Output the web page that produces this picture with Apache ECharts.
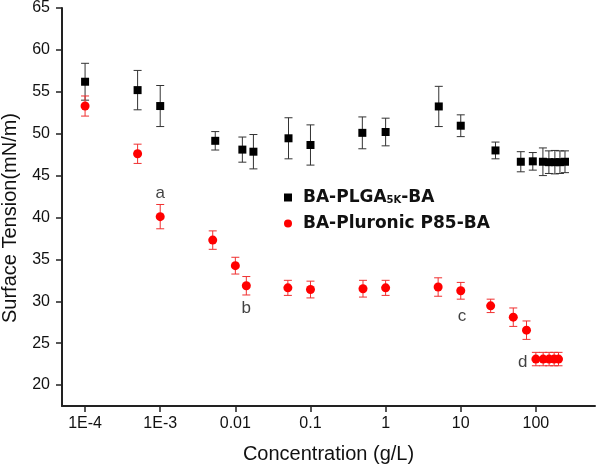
<!DOCTYPE html>
<html>
<head>
<meta charset="utf-8">
<script src="https://cdn.jsdelivr.net/npm/echarts@6/dist/echarts.min.js"></script>
<style>html,body{margin:0;padding:0;background:#fff}#c{width:597px;height:467px}</style>
</head>
<body>
<div id="c"></div>
<script>
// ---- data ----
const plgaX   = [1e-4, 5e-4, 1e-3, 0.0054, 0.0124, 0.0174, 0.051, 0.1, 0.49, 1, 5.1, 10, 29, 63, 91, 124, 149, 179, 209, 244];
const plgaY   = [56.2, 55.2, 53.3, 49.15, 48.1, 47.85, 49.45, 48.65, 50.1, 50.2, 53.25, 50.95, 48.0, 46.65, 46.7, 46.65, 46.6, 46.6, 46.6, 46.65];
const plgaErr = [2.2, 2.35, 2.45, 1.1, 1.5, 2.05, 2.45, 2.4, 1.9, 1.65, 2.4, 1.3, 1.0, 1.2, 1.05, 1.65, 1.35, 1.4, 1.35, 1.3];

const p85X    = [1e-4, 5e-4, 1e-3, 0.005, 0.01, 0.014, 0.05, 0.1, 0.5, 1, 5, 10, 25, 50, 75, 100, 125, 150, 175, 200];
const p85Y    = [53.3, 47.6, 40.1, 37.3, 34.25, 31.85, 31.6, 31.4, 31.5, 31.6, 31.7, 31.25, 29.45, 28.1, 26.55, 23.1, 23.1, 23.1, 23.1, 23.1];
const p85Err  = [1.2, 1.15, 1.45, 1.1, 1.0, 1.1, 0.9, 1.0, 1.0, 0.9, 1.1, 1.0, 0.8, 1.1, 1.1, 0.8, 0.8, 0.8, 0.8, 0.8];

const noteText = ['a', 'b', 'c', 'd'];
const noteX    = [1e-3, 0.014, 10.4, 67];
const noteY    = [42.9, 29.1, 28.2, 22.7];

const xTickValues = [1e-4, 1e-3, 0.01, 0.1, 1, 10, 100];
const xTickLabels = ['1E-4', '1E-3', '0.01', '0.1', '1', '10', '100'];
const yTickValues = [20, 25, 30, 35, 40, 45, 50, 55, 60, 65];

const seriesNames = ['BA-PLGA5K-BA', 'BA-Pluronic P85-BA'];

// ---- build ----
function pts(xs, ys) { return xs.map((x, i) => [x, ys[i]]); }
function errs(xs, ys, es) { return xs.map((x, i) => [x, ys[i] - es[i], ys[i] + es[i]]); }

function errRender(color) {
  return function (params, api) {
    const x = api.value(0);
    const lo = api.coord([x, api.value(1)]);
    const hi = api.coord([x, api.value(2)]);
    const hw = 4;
    const style = { stroke: color, lineWidth: 1, fill: null };
    return {
      type: 'group',
      children: [
        { type: 'line', shape: { x1: lo[0], y1: lo[1], x2: hi[0], y2: hi[1] }, style },
        { type: 'line', shape: { x1: lo[0] - hw, y1: lo[1], x2: lo[0] + hw, y2: lo[1] }, style },
        { type: 'line', shape: { x1: hi[0] - hw, y1: hi[1], x2: hi[0] + hw, y2: hi[1] }, style }
      ]
    };
  };
}

const FONT = '"Liberation Sans", Arial, sans-serif';
const BOLDFONT = '"DejaVu Sans", sans-serif';
const axisColor = '#222';
const chart = echarts.init(document.getElementById('c'), null, { renderer: 'canvas' });
chart.setOption({
  animation: false,
  backgroundColor: '#fff',
  grid: { left: 62, right: 2, top: 8, bottom: 61, containLabel: false, outerBoundsMode: 'none' },
  xAxis: {
    type: 'log',
    logBase: 10,
    min: 4.93e-5,
    max: 612,
    name: 'Concentration (g/L)',
    nameLocation: 'middle',
    nameGap: 38,
    nameTextStyle: { color: '#111', fontSize: 20, fontFamily: FONT },
    axisLine: { lineStyle: { color: axisColor, width: 2 } },
    axisTick: { show: true, length: 6, inside: false, customValues: xTickValues, lineStyle: { color: axisColor, width: 1.5 } },
    axisLabel: {
      customValues: xTickValues,
      color: '#111', fontSize: 16, margin: 10,
      fontFamily: FONT,
      formatter: function (v) {
        const i = xTickValues.findIndex(t => Math.abs(Math.log10(t) - Math.log10(v)) < 1e-6);
        return i >= 0 ? xTickLabels[i] : '';
      }
    },
    splitLine: { show: false },
    minorTick: { show: false }
  },
  yAxis: {
    type: 'value',
    min: 17.5,
    max: 65,
    name: 'Surface Tension(mN/m)',
    nameLocation: 'middle',
    nameGap: 42,
    nameRotate: 90,
    nameTextStyle: { color: '#111', fontSize: 20, fontFamily: FONT, padding: [0, 22, 0, 0] },
    axisLine: { show: true, lineStyle: { color: axisColor, width: 2 } },
    axisTick: { show: true, length: 6, customValues: yTickValues, lineStyle: { color: axisColor, width: 1.5 } },
    axisLabel: {
      customValues: yTickValues,
      color: '#111', fontSize: 16, margin: 12,
      fontFamily: FONT
    },
    splitLine: { show: false }
  },
  legend: {
    orient: 'vertical',
    left: 279,
    top: 184,
    itemWidth: 8,
    itemHeight: 8,
    itemGap: 9,
    data: [
      { name: seriesNames[0], icon: 'rect' },
      { name: seriesNames[1], icon: 'circle' }
    ],
    formatter: function (name) {
      if (name === seriesNames[0]) return '{b|BA-PLGA}{s|5K}{b|-BA}';
      return '{b|' + name + '}';
    },
    textStyle: {
      padding: [0, 0, 0, 6],
      rich: {
        b: { fontSize: 17, fontWeight: 'bold', fontFamily: BOLDFONT, color: '#111', lineHeight: 20 },
        s: { fontSize: 10, fontWeight: 'bold', fontFamily: BOLDFONT, color: '#111', lineHeight: 20, padding: [5, 0, 0, 0] }
      }
    }
  },
  series: [
    {
      type: 'custom', name: 'plgaErr', renderItem: errRender('#333'),
      data: errs(plgaX, plgaY, plgaErr), z: 1, silent: true, encode: { x: 0, y: [1, 2] }
    },
    {
      type: 'custom', name: 'p85Err', renderItem: errRender('#f03030'),
      data: errs(p85X, p85Y, p85Err), z: 1, silent: true, encode: { x: 0, y: [1, 2] }
    },
    {
      type: 'scatter', name: seriesNames[0], symbol: 'rect', symbolSize: 8,
      itemStyle: { color: '#000', opacity: 1 }, data: pts(plgaX, plgaY), z: 3
    },
    {
      type: 'scatter', name: seriesNames[1], symbol: 'circle', symbolSize: 9,
      itemStyle: { color: '#ff0000', opacity: 1 }, data: pts(p85X, p85Y), z: 3
    },
    {
      type: 'scatter', name: 'notes', symbolSize: 0, silent: true,
      data: noteX.map((x, i) => ({ value: [x, noteY[i]], label: { formatter: noteText[i] } })),
      label: { show: true, position: 'inside', color: '#111', fontSize: 17, fontFamily: FONT },
      z: 4
    }
  ]
});
</script>
</body>
</html>
